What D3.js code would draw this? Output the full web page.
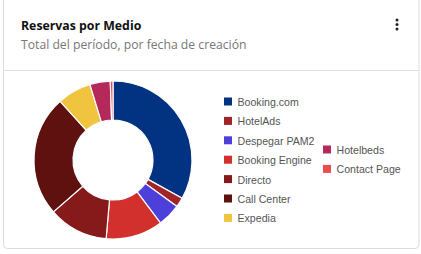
<!DOCTYPE html>
<html>
<head>
<meta charset="utf-8">
<script src="https://cdn.jsdelivr.net/npm/d3@7"></script>
<style>
  body { margin: 0; background: #fff; }
  svg { display: block; }
</style>
</head>
<body>
<div id="chart"></div>
<script>
// data
const channels = ["Booking.com", "HotelAds", "Despegar PAM2", "Booking Engine", "Directo",
                  "Call Center", "Expedia", "Hotelbeds", "Contact Page"];
const bookings = [119, 7, 17, 42, 44, 89, 25, 15, 2];
const colors = ["#023382", "#a12428", "#4d3fd9", "#d1302c", "#861a1a",
                "#5f1110", "#f0c43e", "#b5285a", "#ea4e4c"];

let width = 421, height = 254;

let svg = d3.select('#chart')
    .append('svg')
    .attr('width', width)
    .attr('height', height);

// card
svg.append('rect')
    .attr('x', 3.5).attr('y', -10)
    .attr('width', 415.5).attr('height', 258.5)
    .attr('rx', 4)
    .attr('fill', '#fff')
    .attr('stroke', '#dcdcdc');

svg.append('line')
    .attr('x1', 4).attr('x2', 418.5)
    .attr('y1', 70.5).attr('y2', 70.5)
    .attr('stroke', '#dedede');

// header
svg.append('text')
    .attr('x', 21).attr('y', 30)
    .style('font-family', 'Open Sans')
    .style('font-weight', 700)
    .style('font-size', '12.3px')
    .attr('fill', '#111')
    .text('Reservas por Medio');

svg.append('text')
    .attr('x', 21).attr('y', 49)
    .style('font-family', 'Open Sans')
    .style('font-size', '12.2px')
    .attr('fill', '#777')
    .text('Total del período, por fecha de creación');

// kebab menu
svg.selectAll('.dot')
    .data([20, 24.5, 29])
    .enter()
    .append('circle')
    .attr('cx', 397)
    .attr('cy', d => d)
    .attr('r', 1.5)
    .attr('fill', '#222');

// donut
let cx = 113, cy = 160, outer = 79, inner = 40;

let pie = d3.pie().sort(null).value(d => d.value);
let arc = d3.arc().innerRadius(inner).outerRadius(outer);
let colorScale = d3.scaleOrdinal().domain(channels).range(colors);

let slices = channels.map((c, i) => ({ name: c, value: bookings[i] }));

svg.append('g')
    .attr('transform', `translate(${cx}, ${cy})`)
    .selectAll('path')
    .data(pie(slices))
    .enter()
    .append('path')
    .attr('d', arc)
    .attr('fill', d => colorScale(d.data.name))
    .attr('stroke', '#fff')
    .attr('stroke-width', 1.2);

// legend, 7 in the first column then the rest in a second one
let legend = svg.append('g')
    .style('font-family', 'Liberation Sans, Arial, sans-serif')
    .style('font-size', '10.6px');

let item = legend.selectAll('g')
    .data(channels)
    .enter()
    .append('g')
    .attr('transform', (d, i) => i < 7
        ? `translate(224, ${102 + i * 19.4})`
        : `translate(323, ${150 + (i - 7) * 19.4})`);

item.append('rect')
    .attr('x', 0).attr('y', -4.5)
    .attr('width', 8).attr('height', 8)
    .attr('fill', d => colorScale(d));

item.append('text')
    .attr('x', 13.5).attr('y', 4)
    .attr('fill', '#555')
    .text(d => d);
</script>
</body>
</html>
